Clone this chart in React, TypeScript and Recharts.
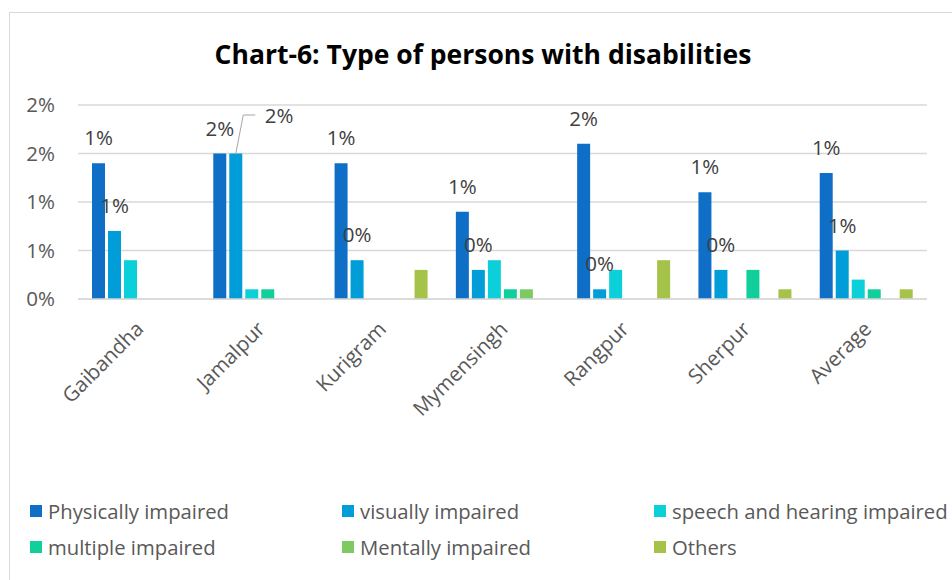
import React from 'react';
import { BarChart, Bar, XAxis, YAxis, CartesianGrid, LabelList } from 'recharts';

const districts = ['Gaibandha', 'Jamalpur', 'Kurigram', 'Mymensingh', 'Rangpur', 'Sherpur', 'Average'];

// values in percent
const physically = [1.4, 1.5, 1.4, 0.9, 1.6, 1.1, 1.3];
const visually = [0.7, 1.5, 0.4, 0.3, 0.1, 0.3, 0.5];
const speechHearing = [0.4, 0.1, 0, 0.4, 0.3, 0, 0.2];
const multiple = [0, 0.1, 0, 0.1, 0, 0.3, 0.1];
const mentally = [0, 0, 0, 0.1, 0, 0, 0];
const others = [0, 0, 0.3, 0, 0.4, 0.1, 0.1];

const yTicks = [0, 0.5, 1, 1.5, 2];

const series = [
  { key: 'physically', name: 'Physically impaired', color: '#0F6FC6' },
  { key: 'visually', name: 'visually impaired', color: '#009DD9' },
  { key: 'speech', name: 'speech and hearing impaired', color: '#0BD0D9' },
  { key: 'multiple', name: 'multiple impaired', color: '#10CF9B' },
  { key: 'mentally', name: 'Mentally impaired', color: '#7CCA62' },
  { key: 'others', name: 'Others', color: '#A5C249' },
];

const data = districts.map((name, i) => ({
  name,
  physically: physically[i],
  visually: visually[i],
  speech: speechHearing[i],
  multiple: multiple[i],
  mentally: mentally[i],
  others: others[i],
}));

const FONT = '"Open Sans", sans-serif';
const LABEL_SIZE = 20.5;
const pct = (v: number) => `${Math.round(v)}%`;

const TopLabel = (props: any) => {
  const { x, y, width, value } = props;
  return (
    <text x={x + width / 2} y={y - 18} textAnchor="middle" fill="#404040" fontSize={LABEL_SIZE} fontFamily={FONT}>
      {pct(value)}
    </text>
  );
};

// visually impaired labels; Jamalpur's one is pulled out with a leader line
const VisualLabel = (props: any) => {
  const { x, y, width, value, index } = props;
  const cx = x + width / 2;
  if (districts[index] === 'Jamalpur') {
    return (
      <g>
        <polyline
          points={`${cx},${y} ${cx + 7.5},${y - 38.5} ${cx + 19.5},${y - 38.5}`}
          fill="none"
          stroke="#A6A6A6"
          strokeWidth={1}
        />
        <text x={cx + 29} y={y - 31} textAnchor="start" fill="#404040" fontSize={LABEL_SIZE} fontFamily={FONT}>
          {pct(value)}
        </text>
      </g>
    );
  }
  return (
    <text x={cx} y={y - 18} textAnchor="middle" fill="#404040" fontSize={LABEL_SIZE} fontFamily={FONT}>
      {pct(value)}
    </text>
  );
};

const legendCols = [30, 342, 654];
const legendRows = [511, 547];

export default function App() {
  return (
    <div style={{ position: 'absolute', left: 0, top: 0, width: 952, height: 580, background: '#fff', overflow: 'hidden', fontFamily: FONT }}>
      <div style={{ position: 'absolute', left: 9, top: 12, width: 1000, height: 600, borderLeft: '1px solid #D9D9D9', borderTop: '1px solid #D9D9D9' }} />
      <div style={{ position: 'absolute', left: 0, width: 966, top: 36, textAlign: 'center', fontSize: 26.5, fontWeight: 700, color: '#000', lineHeight: '36px' }}>
        Chart-6: Type of persons with disabilities
      </div>
      <div style={{ position: 'absolute', left: 0, top: 0 }}>
        <BarChart
          width={952}
          height={580}
          data={data}
          margin={{ top: 105, right: 25, bottom: 0, left: 0 }}
          barCategoryGap={14}
          barGap={3}
        >
          <CartesianGrid vertical={false} stroke="#D9D9D9" strokeWidth={1.5} />
          <XAxis
            dataKey="name"
            interval={0}
            angle={-45}
            textAnchor="end"
            height={281}
            tickLine={false}
            axisLine={{ stroke: '#D9D9D9', strokeWidth: 1.5 }}
            tick={{ fill: '#595959', fontSize: LABEL_SIZE, fontFamily: FONT }}
            dx={-4}
            dy={13}
          />
          <YAxis
            width={78}
            domain={[0, 2]}
            ticks={yTicks}
            tickFormatter={pct}
            axisLine={false}
            tickLine={false}
            tickMargin={17}
            tick={{ fill: '#595959', fontSize: LABEL_SIZE, fontFamily: FONT }}
          />
          {series.map((s) => (
            <Bar key={s.key} dataKey={s.key} name={s.name} fill={s.color} isAnimationActive={false}>
              {s.key === 'physically' && <LabelList dataKey={s.key} content={TopLabel} />}
              {s.key === 'visually' && <LabelList dataKey={s.key} content={VisualLabel} />}
            </Bar>
          ))}
        </BarChart>
      </div>
      {series.map((s, i) => {
        const left = legendCols[i % 3];
        const top = legendRows[Math.floor(i / 3)];
        return (
          <div key={s.key} style={{ position: 'absolute', left, top: top - 14, height: 28, display: 'flex', alignItems: 'center', whiteSpace: 'nowrap' }}>
            <span style={{ display: 'inline-block', width: 12, height: 12, background: s.color, marginRight: 6 }} />
            <span style={{ fontSize: 20.3, color: '#595959' }}>{s.name}</span>
          </div>
        );
      })}
    </div>
  );
}
